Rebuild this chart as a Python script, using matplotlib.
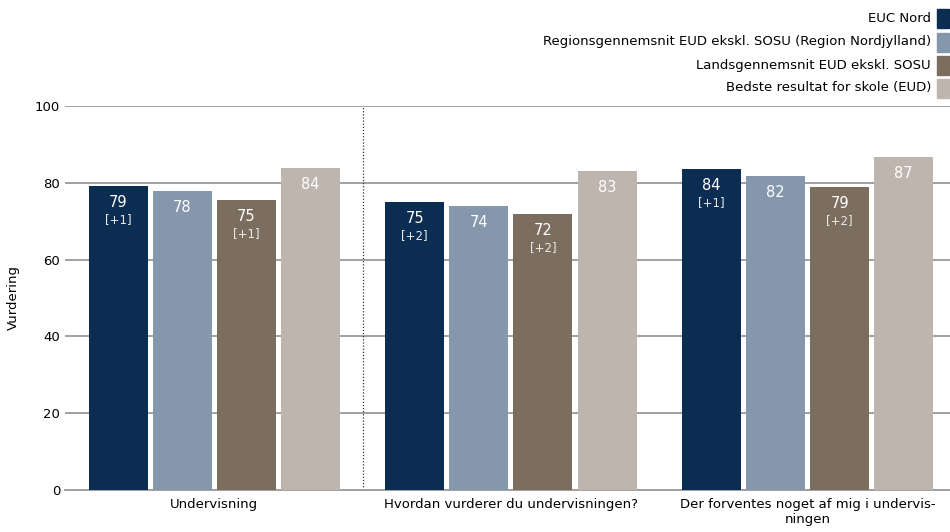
import numpy as np
import matplotlib.pyplot as plt
from matplotlib.patches import Rectangle

categories = ["Undervisning", "Hvordan vurderer du undervisningen?",
              "Der forventes noget af mig i undervis-\nningen"]
series = ["EUC Nord", "Regionsgennemsnit EUD ekskl. SOSU (Region Nordjylland)",
          "Landsgennemsnit EUD ekskl. SOSU", "Bedste resultat for skole (EUD)"]
values = [
    [79.2, 75.0, 83.6],
    [77.9, 74.0, 81.8],
    [75.4, 71.9, 78.9],
    [83.9, 83.0, 86.7],
]
labels = [
    ["79", "75", "84"],
    ["78", "74", "82"],
    ["75", "72", "79"],
    ["84", "83", "87"],
]
changes = [
    ["[+1]", "[+2]", "[+1]"],
    ["", "", ""],
    ["[+1]", "[+2]", "[+2]"],
    ["", "", ""],
]
colors = ["#0c2d52", "#8497ac", "#7b6e5f", "#bdb5ae"]

fig = plt.figure(figsize=(9.5, 5.32), dpi=100)
ax = fig.add_axes([65 / 950, 1 - 490 / 532, 885 / 950, 384 / 532])

x = np.arange(len(categories))
width = 0.199
step = 0.216
for i, (vals, col) in enumerate(zip(values, colors)):
    pos = x + (i - 1.5) * step
    ax.bar(pos, vals, width, color=col, zorder=3)
    for p, v, lab, ch in zip(pos, vals, labels[i], changes[i]):
        ax.text(p, v - 2.3, lab, ha="center", va="top", color="white",
                fontsize=10.5, zorder=4)
        if ch:
            ax.text(p, v - 7.0, ch, ha="center", va="top", color="#e8e8e8",
                    fontsize=8.5, zorder=4)

ax.set_xlim(-0.503, 2.48)
ax.set_ylim(0, 100)
ax.set_yticks(range(0, 101, 20))
ax.set_xticks(x)
ax.set_xticklabels(categories, fontsize=9.5)
ax.tick_params(axis="both", length=0, labelsize=9.5)
ax.tick_params(axis="x", pad=6)
ax.grid(axis="y", color="#a0a0a0", linewidth=1.4, zorder=0)
for s in ["top", "right", "left"]:
    ax.spines[s].set_visible(False)
ax.spines["bottom"].set_color("#a0a0a0")
ax.spines["bottom"].set_linewidth(1.4)
ax.axvline(0.5, color="#333333", linestyle=(0, (1, 1.5)), linewidth=0.9, zorder=2)
ax.set_ylabel("Vurdering", fontsize=9.5, labelpad=11)

# legend at top right
leg_y = [18, 42, 65, 88]
for name, col, yy in zip(series, colors, leg_y):
    fig.text(931 / 950, 1 - yy / 532, name, ha="right", va="center", fontsize=9.5)
    fig.patches.append(Rectangle((937 / 950, 1 - (yy + 10) / 532), 12 / 950, 19 / 532,
                                 transform=fig.transFigure, color=col))

fig.savefig("out.png", dpi=100)
